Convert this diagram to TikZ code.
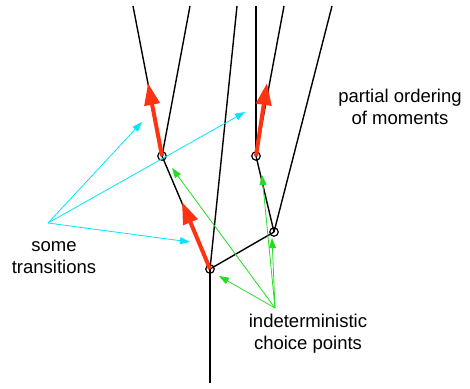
\documentclass[tikz,border=0pt]{standalone}
\usepackage{fontspec}
\setmainfont{Liberation Sans}
\usetikzlibrary{arrows.meta}
\definecolor{tred}{RGB}{255,51,17}
\definecolor{tcyan}{RGB}{0,230,255}
\definecolor{tgreen}{RGB}{34,221,34}
\tikzset{
  branch/.style={line width=1.4pt, black},
  cp/.style={circle, draw, line width=1.2pt, minimum size=8.5pt, inner sep=0pt},
  trans/.style={line width=4pt, tred, -{Triangle[length=22pt,width=15pt]}},
  cyanarr/.style={line width=0.8pt, tcyan, -{Triangle[length=10pt,width=7pt]}},
  greenarr/.style={line width=0.8pt, tgreen, -{Triangle[length=10pt,width=7pt]}},
  lbl/.style={align=center, font=\fontsize{18.5}{22}\selectfont, inner sep=0pt}
}
\begin{document}
\begin{tikzpicture}[x=1pt,y=-1pt]
\useasboundingbox (0,0) rectangle (470,388);
% choice points
\coordinate (A) at (210,269);
\coordinate (B) at (162,156);
\coordinate (C) at (274,232);
\coordinate (D) at (256,156);
% free ends
\coordinate (bot) at (210,383);
\coordinate (t1) at (133,6);
\coordinate (t2) at (190,6);
\coordinate (t3) at (237,6);
\coordinate (t4) at (256,6);
\coordinate (t5) at (284,6);
\coordinate (t6) at (332,6);
% branches
\draw[branch] (bot) -- (A);
\draw[branch] (A) -- (B);
\draw[branch] (A) -- (t3);
\draw[branch] (A) -- (C);
\draw[branch] (B) -- (t1);
\draw[branch] (B) -- (t2);
\draw[branch] (C) -- (D);
\draw[branch] (C) -- (t6);
\draw[branch] (D) -- (t4);
\draw[branch] (D) -- (t5);
% circles
\node[cp] (nA) at (A) {};
\node[cp] (nB) at (B) {};
\node[cp] (nC) at (C) {};
\node[cp] (nD) at (D) {};
% transitions
\coordinate (rA) at (182,202);
\coordinate (rB) at (148,83);
\coordinate (rD) at (267,83);
\draw[trans] (nA.center) -- (rA);
\draw[trans] (nB.center) -- (rB);
\draw[trans] (nD.center) -- (rD);
% labels
\node[lbl] (lt) at (54,258) {some\\transitions};
\node[lbl] (lc) at (308,334) {indeterministic\\choice points};
\node[lbl] (lp) at (400,107) {partial ordering\\of moments};
% cyan pointers
\coordinate (cs) at (48,223);
\coordinate (c1) at (142,122);
\coordinate (c2) at (245,112);
\coordinate (c3) at (190,242);
\draw[cyanarr] (cs) -- (c1);
\draw[cyanarr] (cs) -- (c2);
\draw[cyanarr] (cs) -- (c3);
% green pointers
\coordinate (gs) at (275,308);
\coordinate (g1) at (219,276);
\coordinate (g2) at (172,168);
\coordinate (g3) at (262,175);
\coordinate (g4) at (272,238);
\draw[greenarr] (gs) -- (g1);
\draw[greenarr] (gs) -- (g2);
\draw[greenarr] (gs) -- (g3);
\draw[greenarr] (gs) -- (g4);
\end{tikzpicture}
\end{document}
